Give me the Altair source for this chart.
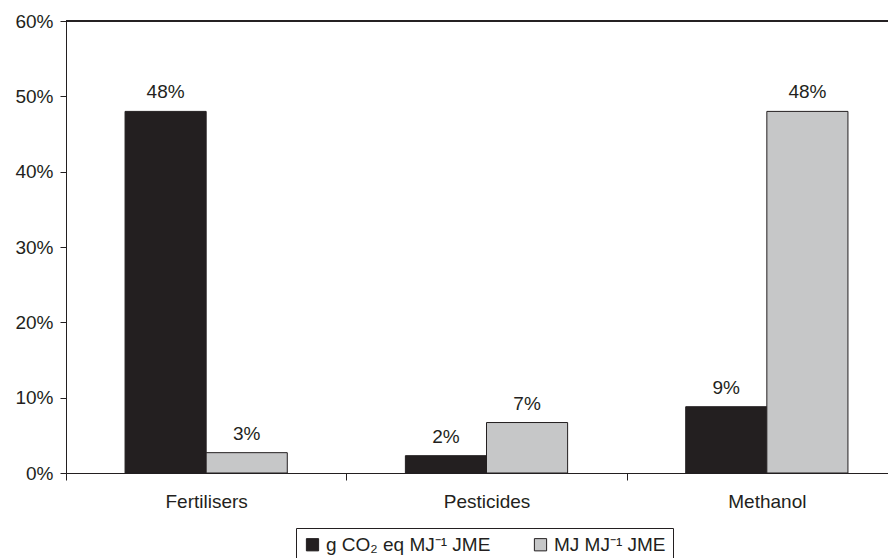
import altair as alt
import pandas as pd

categories = ["Fertilisers", "Pesticides", "Methanol"]
series = ["g CO₂ eq MJ⁻¹ JME", "MJ MJ⁻¹ JME"]
ghg_values = [0.480, 0.023, 0.088]
energy_values = [0.027, 0.067, 0.480]
y_ticks = [0, 0.1, 0.2, 0.3, 0.4, 0.5, 0.6]

rows = []
for c, g, e in zip(categories, ghg_values, energy_values):
    rows.append({"category": c, "series": series[0], "value": g})
    rows.append({"category": c, "series": series[1], "value": e})
df = pd.DataFrame(rows)

ink = "#231f20"
grey = "#c6c7c8"
font = "Liberation Sans"
fs = 19

x = alt.X(
    "category:N", sort=categories, title=None,
    scale=alt.Scale(range=[0, 841], paddingInner=0, paddingOuter=0),
    axis=alt.Axis(tickBand="extent", labelAngle=0, tickSize=7, labelPadding=12,
                  domainColor=ink, tickColor=ink, labelColor=ink,
                  labelFontSize=fs, labelFont=font),
)
xo = alt.XOffset("series:N", sort=series,
                 scale=alt.Scale(paddingInner=0, paddingOuter=0.728))
y = alt.Y(
    "value:Q", title=None,
    scale=alt.Scale(domain=[0, 0.6], nice=False),
    axis=alt.Axis(values=y_ticks, format=".0%", tickSize=6, labelPadding=7,
                  domainColor=ink, tickColor=ink, labelColor=ink,
                  labelFontSize=fs, labelFont=font, grid=False),
)
color = alt.Color(
    "series:N", sort=series,
    scale=alt.Scale(domain=series, range=[ink, grey]),
    legend=alt.Legend(
        title=None, orient="none", legendX=230, legendY=507,
        direction="horizontal", strokeColor=ink, padding=7,
        symbolType="square", symbolSize=150, symbolStrokeColor=ink,
        symbolStrokeWidth=1, symbolOpacity=1, labelFontSize=fs,
        labelFont=font, labelColor=ink, columnPadding=40, labelLimit=0,
        labelOffset=4,
    ),
)

base = alt.Chart(df)
bars = base.mark_bar(stroke=ink, strokeWidth=1, opacity=1).encode(
    x=x, xOffset=xo, y=y, color=color
)
labels = base.mark_text(
    baseline="alphabetic", dy=-13, fontSize=fs, font=font, color=ink
).encode(
    x=x, xOffset=xo, y=y, text=alt.Text("value:Q", format=".0%")
)
top_line = base.mark_rule(color=ink, strokeWidth=1).encode(
    y=alt.datum(0.6)
)

chart = (
    alt.layer(bars, labels, top_line)
    .properties(
        width=822, height=452,
        autosize=alt.AutoSizeParams(type="none"),
        padding={"left": 58, "top": 13, "right": 0, "bottom": 85},
        background="white",
    )
    .configure_view(stroke=None)
)

chart.save("out.html", embed_options={"renderer": "svg", "actions": False})
